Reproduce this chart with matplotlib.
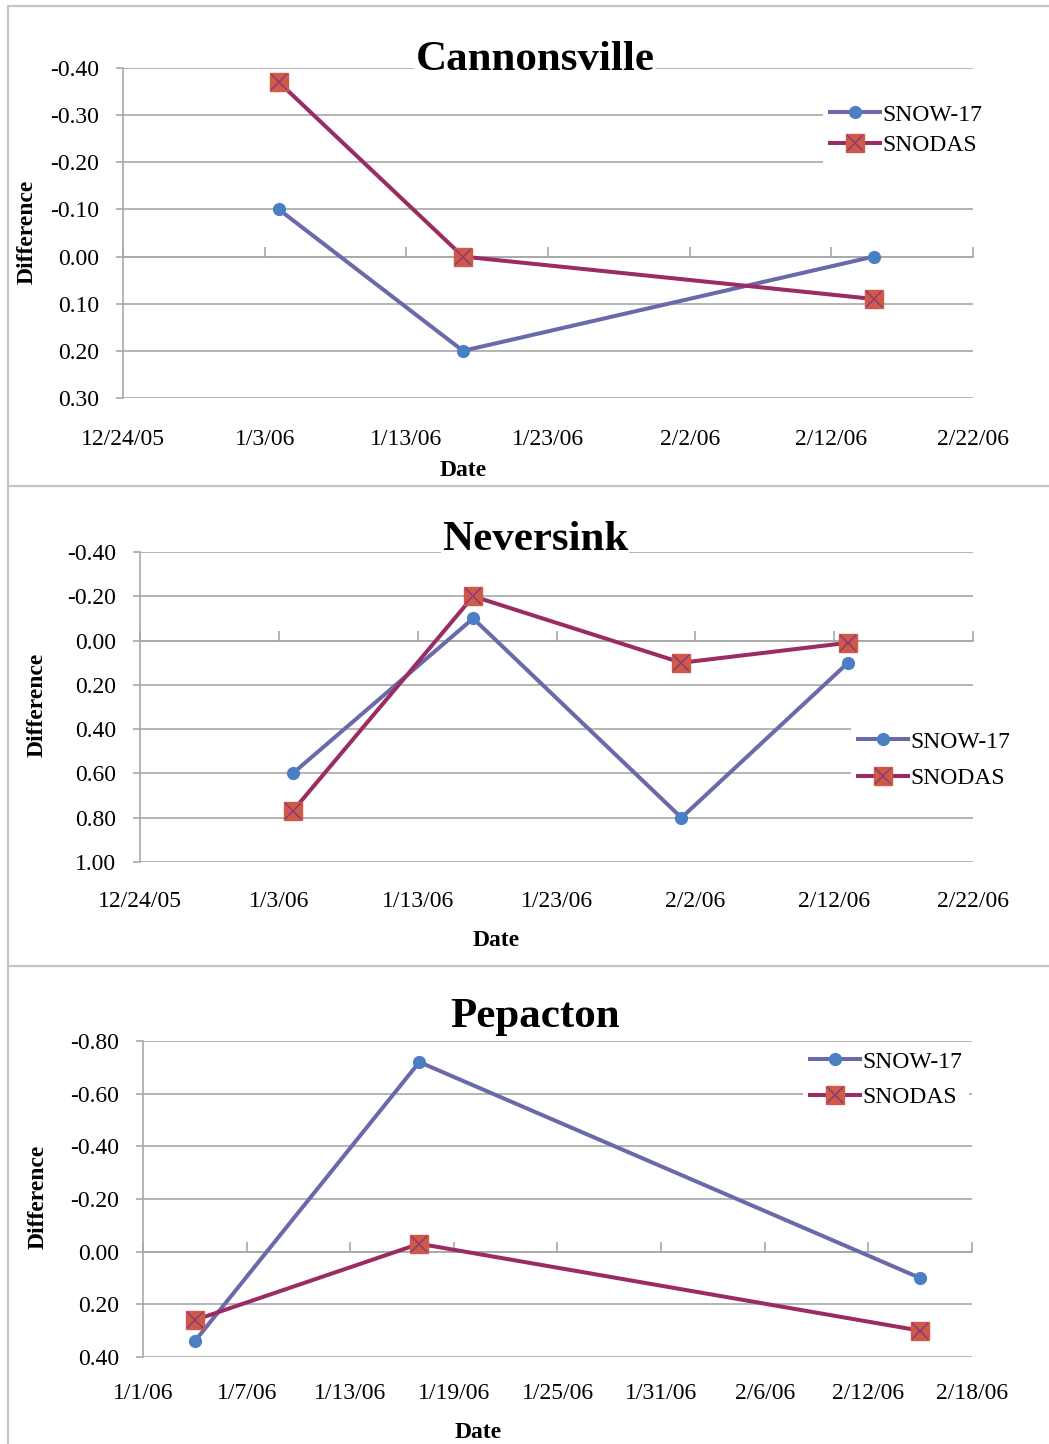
import matplotlib
matplotlib.use("Agg")
import matplotlib.pyplot as plt
import matplotlib.dates as mdates
from matplotlib.lines import Line2D
import pandas as pd

plt.rcParams['font.family'] = ['Liberation Serif', 'DejaVu Serif']

# ---------------- data ----------------
titles = ["Cannonsville", "Neversink", "Pepacton"]

c_dates = ["1/4/06", "1/17/06", "2/15/06"]
c_snow17 = [-0.10, 0.20, 0.00]
c_snodas = [-0.37, 0.00, 0.09]
c_xticks = ["12/24/05", "1/3/06", "1/13/06", "1/23/06", "2/2/06", "2/12/06", "2/22/06"]
c_yticks = [-0.40, -0.30, -0.20, -0.10, 0.00, 0.10, 0.20, 0.30]

n_dates = ["1/4/06", "1/17/06", "2/1/06", "2/13/06"]
n_snow17 = [0.60, -0.10, 0.80, 0.10]
n_snodas = [0.77, -0.20, 0.10, 0.01]
n_xticks = ["12/24/05", "1/3/06", "1/13/06", "1/23/06", "2/2/06", "2/12/06", "2/22/06"]
n_yticks = [-0.40, -0.20, 0.00, 0.20, 0.40, 0.60, 0.80, 1.00]

p_dates = ["1/4/06", "1/17/06", "2/15/06"]
p_snow17 = [0.34, -0.72, 0.10]
p_snodas = [0.26, -0.03, 0.30]
p_xticks = ["1/1/06", "1/7/06", "1/13/06", "1/19/06", "1/25/06", "1/31/06", "2/6/06", "2/12/06", "2/18/06"]
p_yticks = [-0.80, -0.60, -0.40, -0.20, 0.00, 0.20, 0.40]

# ---------------- style ----------------
W, H = 1049, 1444
DPI = 100
SNOW_LINE = "#6a6aaa"
SNOW_MARK = "#4a7fc4"
SNODAS_LINE = "#9a2c63"
SNODAS_MARK = "#d05a48"
SNODAS_X = "#8a3a78"
GRID = "#a8a8a8"
FS = 17


def dn(strings):
    return mdates.date2num(pd.to_datetime(strings, format="%m/%d/%y"))


fig = plt.figure(figsize=(W / DPI, H / DPI), dpi=DPI)


def px_rect(left, right, top, bottom):
    return [left / W, 1 - bottom / H, (right - left) / W, (bottom - top) / H]


panels = [
    dict(rect=px_rect(123, 973, 68, 398), dates=c_dates, s17=c_snow17, sno=c_snodas,
         xt=c_xticks, yt=c_yticks, title_xy=(535, 70), ylab_xy=(27, 232), date_xy=(463, 470),
         leg_xy=(823, 97), lspace=0.39, xpad=22),
    dict(rect=px_rect(140, 973, 552, 862), dates=n_dates, s17=n_snow17, sno=n_snodas,
         xt=n_xticks, yt=n_yticks, title_xy=(535, 550), ylab_xy=(37, 705), date_xy=(496, 940),
         leg_xy=(851, 724), lspace=0.62, xpad=21),
    dict(rect=px_rect(143, 972, 1041, 1357), dates=p_dates, s17=p_snow17, sno=p_snodas,
         xt=p_xticks, yt=p_yticks, title_xy=(535, 1027), ylab_xy=(38, 1197), date_xy=(478, 1432),
         leg_xy=(803, 1044), lspace=0.59, xpad=19),
]

for title, p in zip(titles, panels):
    ax = fig.add_axes(p["rect"])
    x = dn(p["dates"])
    xt = dn(p["xt"])

    ln1, = ax.plot(x, p["s17"], color=SNOW_LINE, lw=2.9, marker="o", ms=8.5,
                   mfc=SNOW_MARK, mec=SNOW_MARK, zorder=4, clip_on=False)
    ln2, = ax.plot(x, p["sno"], color=SNODAS_LINE, lw=2.9, marker="s", ms=12.5,
                   mfc=SNODAS_MARK, mec=SNODAS_MARK, zorder=4, clip_on=False)
    ln3, = ax.plot(x, p["sno"], ls="none", marker="x", ms=11, mew=1.1,
                   color=SNODAS_X, zorder=5, clip_on=False)

    ax.set_xlim(xt[0], xt[-1])
    ax.set_ylim(p["yt"][-1], p["yt"][0])
    ax.set_yticks(p["yt"])
    ax.set_yticklabels([f"{v:.2f}" for v in p["yt"]], fontsize=FS)
    ax.yaxis.grid(True, color=GRID, lw=1.2, zorder=0)
    ax.set_axisbelow(True)

    for s in ("top", "right"):
        ax.spines[s].set_visible(False)
    ax.spines["left"].set_color(GRID)
    ax.spines["left"].set_linewidth(1.2)
    ax.spines["bottom"].set_position(("data", 0))
    ax.spines["bottom"].set_color(GRID)
    ax.spines["bottom"].set_linewidth(1.2)

    ax.set_xticks(xt)
    ax.tick_params(axis="x", direction="in", length=7, width=1.2, color=GRID,
                   labelbottom=False)
    ax.tick_params(axis="y", direction="out", length=5, width=1.2, color=GRID,
                   pad=12, labelcolor="black")

    sec = ax.secondary_xaxis("bottom")
    sec.set_xticks(xt)
    sec.set_xticklabels(p["xt"], fontsize=FS)
    sec.tick_params(length=0, pad=p["xpad"])
    sec.spines["bottom"].set_visible(False)

    tx, ty = p["title_xy"]
    fig.text(tx / W, 1 - ty / H, title, fontsize=31, fontweight="bold",
             ha="center", va="baseline", zorder=10,
             bbox=dict(facecolor="white", edgecolor="none", pad=1))
    lx, ly = p["ylab_xy"]
    fig.text(lx / W, 1 - ly / H, "Difference", fontsize=FS, fontweight="bold",
             rotation=90, ha="center", va="center")
    dx, dy = p["date_xy"]
    fig.text(dx / W, 1 - dy / H, "Date", fontsize=FS, fontweight="bold",
             ha="center", va="center")

    gx, gy = p["leg_xy"]
    leg = ax.legend([ln1, (ln2, ln3)], ["SNOW-17", "SNODAS"],
                    loc="upper left", bbox_to_anchor=(gx / W, 1 - gy / H),
                    bbox_transform=fig.transFigure, frameon=True, facecolor="white",
                    edgecolor="none", fancybox=False, framealpha=1, fontsize=FS,
                    handlelength=2.1, handletextpad=0.1, labelspacing=p["lspace"],
                    borderpad=0.3, borderaxespad=0)
    leg.set_zorder(6)

# panel frame lines
fc = "#c4c4c4"
for yy in (6, 486, 966):
    fig.add_artist(Line2D([8 / W, 1.0], [1 - yy / H, 1 - yy / H], color=fc, lw=1.6))
fig.add_artist(Line2D([8 / W, 8 / W], [1 - 6 / H, 0.0], color=fc, lw=1.6))

fig.savefig("out.png", dpi=DPI, facecolor="white")
